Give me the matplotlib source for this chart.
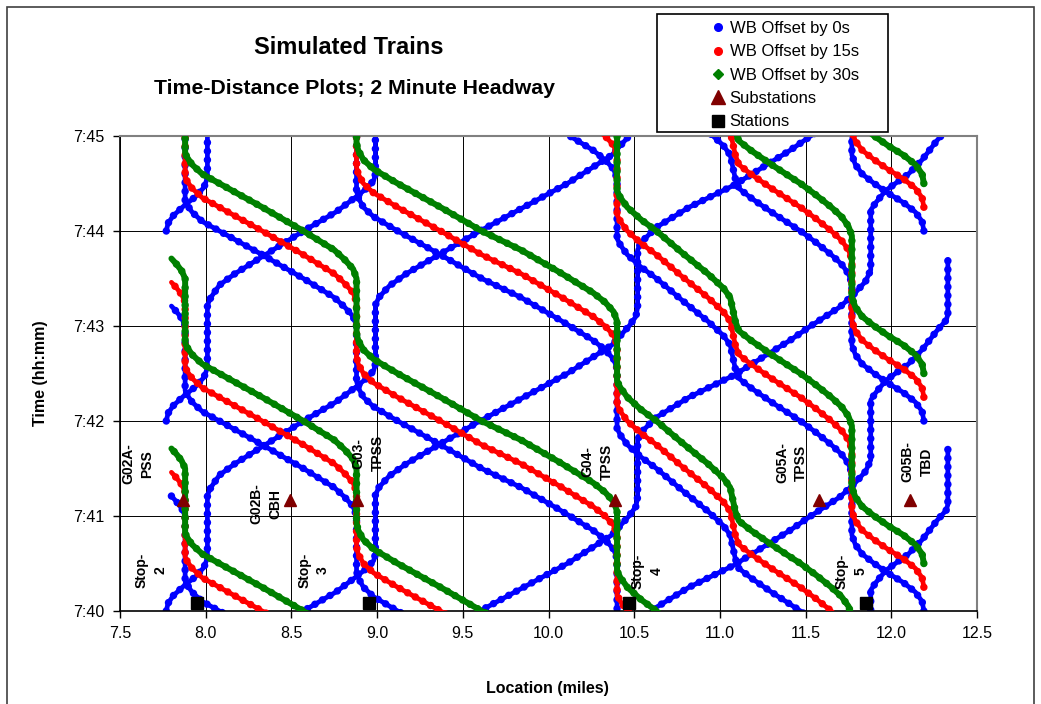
import numpy as np
import matplotlib
matplotlib.use("Agg")
import matplotlib.pyplot as plt
from matplotlib.lines import Line2D
from matplotlib.patches import Rectangle

plt.rcParams['font.family'] = ['Liberation Sans', 'DejaVu Sans']

# Westbound run: minutes after leaving 12.19 mi, location (miles)
wb_t = [0.00, 0.10, 0.20, 0.30, 0.40, 0.50, 0.60, 0.70, 0.80,
        1.45, 1.55, 1.65, 1.75, 1.88, 2.00, 2.20, 2.35, 2.45, 2.55,
        2.80, 2.90, 3.05, 3.27, 3.50, 3.62, 3.75, 3.85, 3.92,
        4.55, 4.65, 4.75, 4.85, 5.06, 5.30, 5.50, 5.75, 6.00, 6.15, 6.25, 6.35, 6.42,
        7.00, 7.10, 7.20, 7.30, 7.50, 7.75, 8.00, 8.10, 8.20, 8.28, 8.32,
        9.00, 9.08, 9.15, 9.21]
wb_x = [12.19, 12.18, 12.14, 12.07, 11.98, 11.90, 11.83, 11.79, 11.77,
        11.77, 11.75, 11.71, 11.65, 11.56, 11.47, 11.30, 11.18, 11.11, 11.09,
        11.06, 11.02, 10.93, 10.78, 10.63, 10.54, 10.46, 10.42, 10.40,
        10.40, 10.38, 10.33, 10.26, 10.07, 9.84, 9.61, 9.37, 9.12, 8.98, 8.92, 8.89, 8.88,
        8.88, 8.86, 8.81, 8.75, 8.57, 8.33, 8.08, 7.98, 7.92, 7.89, 7.88,
        7.88, 7.86, 7.83, 7.80]

# Eastbound run: minutes after leaving 7.77 mi, location (miles)
eb_t = [0.00, 0.08, 0.16, 0.26, 0.36, 0.46, 0.56,
        1.22, 1.30, 1.43, 1.55, 1.73, 2.00, 2.20, 2.35, 2.45, 2.53, 2.60,
        3.22, 3.30, 3.42, 3.55, 3.75, 4.00, 4.50, 4.80, 5.00, 5.10, 5.20,
        5.80, 5.88, 6.04, 6.25, 6.48, 6.85, 7.00, 7.20, 7.35, 7.47, 7.59,
        8.22, 8.30, 8.43, 8.60, 8.75, 8.96, 9.06, 9.12, 9.70]
eb_x = [7.77, 7.78, 7.81, 7.87, 7.94, 7.99, 8.01,
        8.01, 8.03, 8.08, 8.17, 8.33, 8.57, 8.76, 8.87, 8.94, 8.98, 8.99,
        8.99, 9.01, 9.07, 9.17, 9.36, 9.60, 10.11, 10.37, 10.47, 10.51, 10.52,
        10.52, 10.54, 10.63, 10.82, 11.08, 11.41, 11.53, 11.70, 11.79, 11.85, 11.88,
        11.88, 11.91, 11.97, 12.10, 12.18, 12.27, 12.32, 12.33, 12.33]

# departure times (minutes after 7:40), 2 minute headway
wb_starts = [-8, -6, -4, -2, 0, 2, 4]
eb_starts = [-8, -6, -4, -2, 0, 2, 4]

offsets_s = [0, 15, 30]
series_labels = ["WB Offset by 0s", "WB Offset by 15s", "WB Offset by 30s"]
series_colors = ["#0000FF", "#FF0000", "#008000"]

substation_x = [7.87, 8.49, 8.88, 10.39, 11.58, 12.11]
substation_t = [1.17, 1.17, 1.17, 1.17, 1.17, 1.17]
station_x = [7.95, 8.95, 10.47, 11.85]
station_t = [0.085, 0.085, 0.085, 0.085]

time_labels = ["7:40", "7:41", "7:42", "7:43", "7:44", "7:45"]
loc_ticks = [7.5, 8.0, 8.5, 9.0, 9.5, 10.0, 10.5, 11.0, 11.5, 12.0, 12.5]

site_labels = [("G02A-\nPSS", 7.605, 1.55), ("G02B-\nCBH", 8.352, 1.13),
               ("G03-\nTPSS", 8.947, 1.66), ("G04-\nTPSS", 10.283, 1.57),
               ("G05A-\nTPSS", 11.42, 1.56), ("G05B-\nTBD", 12.15, 1.57),
               ("Stop-\n2", 7.68, 0.43), ("Stop-\n3", 8.63, 0.43),
               ("Stop-\n4", 10.575, 0.42), ("Stop-\n5", 11.765, 0.42)]

W, H = 1041, 704
fig = plt.figure(figsize=(W / 100, H / 100), dpi=100)
ax = fig.add_axes([120 / W, 1 - 611 / H, (977 - 120) / W, (611 - 136) / H])


def train(x, t, col, z, core):
    # solid core with round dots on top -> beaded look of the sampled points
    ax.plot(x, t, color=col, lw=core, solid_capstyle="round", zorder=z)
    ax.plot(x, t, color=col, lw=5.4, ls=(0, (0.01, 1.15)),
            dash_capstyle="round", zorder=z)


for off, col, z in zip(offsets_s, series_colors, [2, 3, 4]):
    core = 4.3 if col == "#008000" else 3.4
    for s in wb_starts:
        train(wb_x, np.array(wb_t) + s + off / 60, col, z, core)
    if off == 0:
        for s in eb_starts:
            train(eb_x, np.array(eb_t) + s, col, z, core)

ax.plot(substation_x, substation_t, ls="none", marker="^", ms=9,
        color="#800000", zorder=6)
ax.plot(station_x, station_t, ls="none", marker="s", ms=8,
        color="black", zorder=6)

for txt, x, t in site_labels:
    ax.text(x, t, txt, rotation=90, ha="center", va="center", fontsize=10,
            fontweight="bold", multialignment="center", linespacing=1.45, zorder=7)

ax.set_xlim(7.5, 12.5)
ax.set_ylim(0, 5)
ax.set_xticks(loc_ticks)
ax.set_xticklabels([f"{v:.1f}" for v in loc_ticks], fontsize=11.5)
ax.set_yticks(range(6))
ax.set_yticklabels(time_labels, fontsize=11.5)
ax.tick_params(direction="out", length=5, width=1, pad=6)
ax.grid(True, color="black", lw=0.7, zorder=0)
ax.set_axisbelow(True)
for side in ["top", "right"]:
    ax.spines[side].set_color("#808080")
    ax.spines[side].set_linewidth(1.5)
for side in ["left", "bottom"]:
    ax.spines[side].set_color("black")
    ax.spines[side].set_linewidth(1.2)

fig.text(349 / W, 1 - 47 / H, "Simulated Trains", fontsize=17, fontweight="bold",
         ha="center", va="center")
fig.text(354 / W, 1 - 88 / H, "Time-Distance Plots; 2 Minute Headway", fontsize=15.3,
         fontweight="bold", ha="center", va="center")
fig.text(547 / W, 1 - 689 / H, "Location (miles)", fontsize=11.5, fontweight="bold",
         ha="center", va="center")
fig.text(40 / W, 1 - 373 / H, "Time (hh:mm)", fontsize=11.5, fontweight="bold",
         ha="center", va="center", rotation=90)

# outer chart border and legend box
fig.patches.append(Rectangle((7 / W, -0.05), (1034 - 7) / W, 1 - 7 / H + 0.05,
                             transform=fig.transFigure, fill=False,
                             edgecolor="#404040", lw=1.2))
fig.patches.append(Rectangle((657 / W, 1 - 132 / H), (888 - 657) / W, (132 - 14) / H,
                             transform=fig.transFigure, fill=False,
                             edgecolor="black", lw=1.2, zorder=10))

handles = [Line2D([], [], ls="none", marker="o", ms=5.5, color=series_colors[0]),
           Line2D([], [], ls="none", marker="o", ms=5.5, color=series_colors[1]),
           Line2D([], [], ls="none", marker="D", ms=5, color=series_colors[2]),
           Line2D([], [], ls="none", marker="^", ms=10, color="#800000"),
           Line2D([], [], ls="none", marker="s", ms=8, color="black")]
labels = series_labels + ["Substations", "Stations"]
fig.legend(handles, labels, loc="upper left", bbox_to_anchor=(709.5 / W, 1 - 21 / H),
           frameon=False, fontsize=12, handlelength=1.0, handletextpad=0.2,
           borderpad=0, borderaxespad=0, labelspacing=0.5)

fig.savefig("out.png", dpi=100)
